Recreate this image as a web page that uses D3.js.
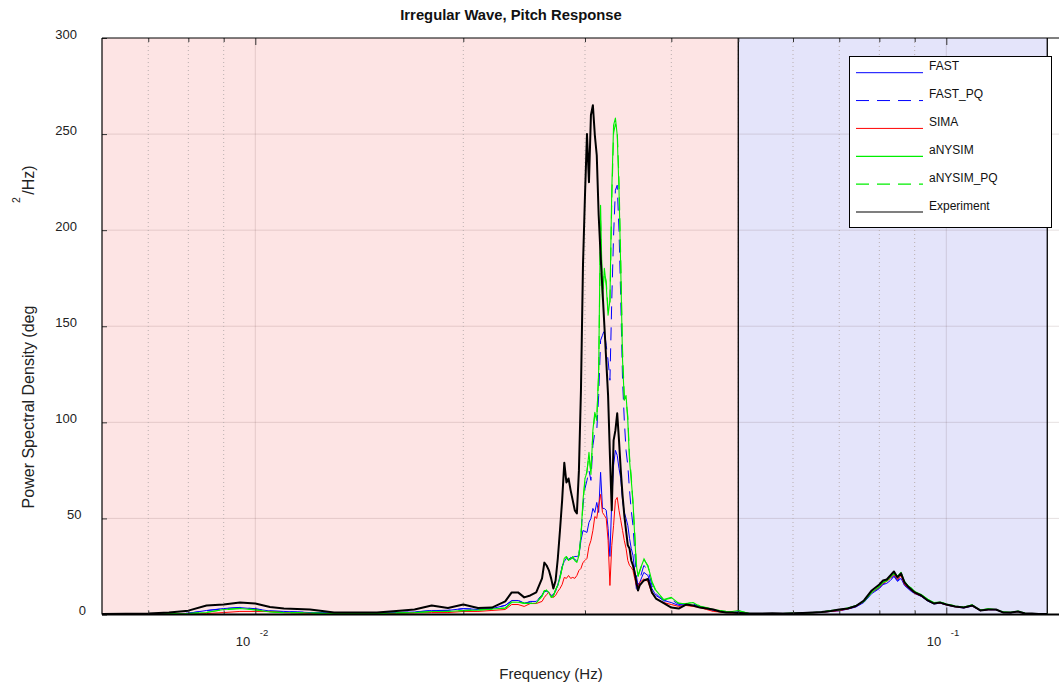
<!DOCTYPE html>
<html>
<head>
<meta charset="utf-8">
<script src="https://cdn.jsdelivr.net/npm/d3@7"></script>
<style>
  html, body { margin: 0; padding: 0; background: #ffffff; }
  svg { display: block; font-family: "Liberation Sans", Arial, Helvetica, sans-serif; }
</style>
</head>
<body>
<svg id="chart" width="1059" height="686"></svg>
<script>
// Frequency grid (Hz) shared by all spectra
const freq = [
  0.006, 0.0065, 0.007, 0.0075, 0.008, 0.0085, 0.009, 0.0095, 0.010, 0.0105,
  0.011, 0.0115, 0.012, 0.0125, 0.013, 0.0135, 0.014, 0.0145, 0.015,
  0.016, 0.017, 0.018, 0.019, 0.020, 0.021, 0.022, 0.023,
  0.0235, 0.024, 0.0245, 0.025, 0.0255,
  0.0260, 0.0262, 0.0264, 0.0266, 0.0268, 0.0270, 0.0272, 0.0274, 0.0276, 0.0278,
  0.0280, 0.0282, 0.0284, 0.0286, 0.0288, 0.0290, 0.0292, 0.0294, 0.0296, 0.0298,
  0.0300, 0.0302, 0.0304, 0.0306, 0.0308, 0.0310, 0.0312, 0.0314, 0.0316, 0.0318,
  0.0320, 0.0322, 0.0324, 0.0326, 0.0328, 0.0330, 0.0332, 0.0334, 0.0336, 0.0338,
  0.0340, 0.0342, 0.0344, 0.0346, 0.0348, 0.0350, 0.0352, 0.0354, 0.0356, 0.0358,
  0.0360,
  0.0365, 0.037, 0.0375, 0.038,
  0.039, 0.040, 0.041, 0.042, 0.043, 0.044, 0.045, 0.046, 0.047, 0.048, 0.049, 0.050,
  0.052, 0.054, 0.056, 0.058, 0.060, 0.062, 0.064, 0.066, 0.068, 0.070, 0.072, 0.074,
  0.076, 0.078, 0.080,
  0.081, 0.082, 0.083, 0.084, 0.085, 0.086, 0.087, 0.088, 0.089, 0.090,
  0.092, 0.094, 0.096, 0.098, 0.100,
  0.103, 0.106, 0.109, 0.112, 0.115, 0.118, 0.121, 0.124, 0.127, 0.130, 0.133, 0.136,
  0.140
];

// Pitch PSD, deg^2/Hz
const psdFAST = [
  0.2, 0.2, 0.3, 0.4, 0.6, 2.1, 3.1, 3.6, 2.9, 1.8, 1.6, 1.3, 1.0, 1.0, 0.8, 0.8, 0.8, 0.8, 0.8,
  1.0, 1.3, 2.1, 2.1, 3.1, 2.6, 3.1, 4.7,
  7.3, 7.3, 5.7, 6.8, 6.8,
  9.9, 12.0, 12.0, 11.5, 9.9, 10.4, 12.0, 15.6, 19.8, 25.0,
  27.6, 29.2, 28.1, 29.2, 29.7, 30.2, 30.2, 30.7, 38.5, 43.7,
  43.2, 42.7, 47.9, 50.0, 55.2, 53.1, 58.3, 53.1, 74.0, 55.2,
  55.2, 54.2, 44.8, 30.2, 59.4, 77.6, 85.4, 82.8, 76.0, 70.8,
  59.4, 53.1, 50.0, 46.4, 39.6, 34.4, 30.7, 22.9, 13.5, 12.5,
  16.7,
  21.9, 20.3, 13.5, 9.9,
  7.3, 6.2, 4.7, 5.2, 4.7, 4.2, 3.1, 2.1, 1.6, 1.0, 1.0, 1.0,
  0.4, 0.4, 0.5, 0.4, 0.5, 0.7, 0.9, 1.1, 1.6, 1.9, 2.8, 3.9, 6.3, 10.9, 13.5,
  15.6, 16.2, 17.7, 19.8, 17.2, 18.8, 15.1, 13.5, 12.0, 10.9,
  9.4, 7.0, 5.5, 5.9, 5.0,
  4.0, 3.4, 4.4, 2.0, 2.5, 2.4, 1.0, 0.9, 1.5, 0.5, 0.4, 0.3,
  0.3
];

const psdFAST_PQ = [
  0.2, 0.2, 0.3, 0.4, 0.7, 2.0, 3.0, 3.7, 3.0, 1.9, 1.5, 1.3, 1.1, 0.9, 0.8, 0.8, 0.8, 0.9, 0.8,
  1.1, 1.3, 2.0, 2.2, 3.0, 2.7, 3.0, 4.8,
  7.0, 7.5, 5.9, 6.5, 7.0,
  10.2, 12.3, 12.5, 11.8, 9.6, 10.0, 12.8, 15.1, 19.3, 24.5,
  28.6, 30.0, 28.6, 29.7, 29.2, 28.6, 28.1, 31.2, 41.1, 56.8,
  65.6, 69.8, 75.0, 69.8, 88.0, 94.8, 95.8, 114.0, 142.7, 145.3,
  148.0, 140.0, 132.3, 121.9, 163.5, 197.4, 220.8, 223.4, 200.0, 163.5,
  121.9, 101.0, 85.4, 77.6, 64.6, 54.2, 46.4, 33.3, 20.3, 15.1,
  18.3,
  25.5, 23.4, 15.1, 10.9,
  7.0, 7.8, 5.2, 5.5, 5.5, 4.2, 3.4, 2.3, 1.8, 1.2, 1.2, 1.4,
  0.4, 0.5, 0.5, 0.4, 0.6, 0.7, 0.9, 1.2, 1.7, 2.1, 3.0, 4.1, 6.5, 11.2, 14.0,
  16.0, 16.7, 18.2, 20.3, 17.7, 19.3, 15.4, 13.8, 12.3, 11.2,
  9.6, 7.2, 5.6, 6.0, 5.1,
  4.1, 3.5, 4.5, 2.1, 2.6, 2.5, 1.1, 0.9, 1.6, 0.5, 0.4, 0.3,
  0.3
];

const psdSIMA = [
  0.1, 0.1, 0.1, 0.2, 0.3, 0.5, 1.0, 1.6, 1.6, 1.6, 1.0, 0.8, 0.5, 0.5, 0.5, 0.5, 0.5, 0.5, 0.5,
  0.5, 0.8, 1.0, 1.0, 1.6, 1.6, 2.1, 2.6,
  5.2, 5.2, 4.2, 5.7, 5.7,
  6.8, 8.9, 10.4, 11.5, 9.4, 8.9, 9.9, 12.0, 13.5, 15.6,
  19.3, 18.8, 20.3, 18.8, 19.3, 18.8, 20.3, 22.9, 24.0, 27.1,
  28.1, 29.2, 35.4, 38.5, 43.7, 51.0, 50.0, 56.8, 62.5, 53.1,
  51.6, 50.0, 38.5, 15.1, 35.9, 46.4, 59.4, 60.9, 54.2, 49.0,
  43.7, 38.5, 34.4, 28.1, 25.5, 24.5, 22.9, 18.8, 15.1, 14.1,
  16.7,
  18.5, 17.2, 10.9, 8.3,
  6.2, 5.2, 4.2, 4.7, 4.2, 3.6, 2.6, 1.6, 1.3, 1.0, 0.8, 0.8,
  0.4, 0.4, 0.5, 0.4, 0.5, 0.7, 0.9, 1.1, 1.6, 2.0, 2.9, 4.2, 6.8, 11.5, 14.1,
  16.2, 17.2, 18.8, 20.8, 18.2, 20.3, 15.6, 14.1, 12.5, 11.0,
  9.6, 7.2, 5.6, 6.0, 5.0,
  4.0, 3.5, 4.5, 2.0, 2.5, 2.5, 1.0, 0.9, 1.5, 0.5, 0.4, 0.3,
  0.3
];

const psdANYSIM = [
  0.2, 0.2, 0.2, 0.3, 0.5, 1.0, 2.6, 3.1, 2.4, 1.3, 1.0, 0.9, 0.8, 0.6, 0.5, 0.5, 0.5, 0.5, 0.5,
  0.8, 1.0, 1.6, 1.6, 2.1, 2.3, 2.9, 3.3,
  6.5, 6.4, 5.9, 5.7, 6.0,
  9.4, 12.5, 12.5, 11.5, 8.9, 9.4, 13.0, 15.1, 18.8, 24.0,
  29.2, 30.2, 28.1, 29.2, 29.7, 28.1, 27.1, 30.7, 41.1, 59.4,
  70.8, 74.0, 84.4, 72.9, 95.8, 105.2, 101.0, 127.0, 213.0, 163.5,
  180.2, 171.3, 155.7, 163.5, 220.8, 254.7, 258.3, 249.5, 220.8, 179.0,
  132.3, 111.5, 114.0, 101.0, 80.2, 69.8, 59.4, 41.1, 25.5, 20.3,
  22.9,
  28.6, 25.5, 17.2, 12.5,
  7.8, 8.9, 5.7, 5.7, 6.2, 4.2, 3.6, 2.6, 2.1, 1.6, 1.6, 2.1,
  0.4, 0.5, 0.5, 0.5, 0.6, 0.8, 1.0, 1.3, 2.0, 2.4, 3.3, 4.7, 6.8, 11.5, 14.6,
  16.7, 17.7, 19.3, 21.4, 19.8, 21.9, 17.2, 15.1, 13.5, 12.0,
  10.4, 7.8, 6.2, 6.5, 5.5,
  4.4, 3.9, 4.9, 2.4, 2.9, 2.6, 1.3, 1.1, 1.8, 0.6, 0.5, 0.4,
  0.3
];

const psdANYSIM_PQ = [
  0.2, 0.2, 0.2, 0.3, 0.5, 1.1, 2.5, 3.2, 2.5, 1.4, 1.0, 0.9, 0.8, 0.6, 0.5, 0.5, 0.5, 0.5, 0.5,
  0.8, 1.0, 1.5, 1.7, 2.0, 2.3, 2.8, 3.4,
  6.3, 6.6, 5.8, 5.8, 6.2,
  9.8, 12.0, 12.8, 11.2, 9.2, 9.9, 12.6, 15.6, 19.3, 24.5,
  28.6, 29.7, 28.6, 28.6, 30.2, 28.6, 27.6, 31.2, 40.1, 57.8,
  69.8, 75.0, 82.8, 74.0, 94.3, 104.2, 102.0, 124.9, 205.0, 166.0,
  178.0, 173.4, 158.3, 160.9, 215.6, 250.5, 255.2, 252.0, 226.0, 184.2,
  137.5, 113.6, 111.5, 103.1, 82.3, 71.9, 57.3, 43.2, 26.6, 19.8,
  22.4,
  29.2, 25.0, 16.7, 12.0,
  7.5, 8.6, 5.9, 5.5, 6.4, 4.4, 3.4, 2.7, 2.0, 1.7, 1.5, 2.0,
  0.4, 0.5, 0.5, 0.5, 0.6, 0.8, 1.0, 1.3, 1.9, 2.4, 3.4, 4.6, 7.0, 11.8, 14.8,
  16.9, 17.5, 19.6, 21.0, 20.0, 21.6, 17.5, 14.8, 13.8, 11.8,
  10.2, 8.0, 6.0, 6.7, 5.3,
  4.5, 3.8, 5.0, 2.3, 3.0, 2.5, 1.4, 1.0, 1.9, 0.6, 0.5, 0.4,
  0.3
];

const psdExperiment = [
  0.3, 0.4, 0.5, 1.0, 2.0, 4.7, 5.2, 6.2, 5.7, 3.9, 3.1, 2.9, 2.6, 1.8, 1.0, 1.0, 1.0, 1.0, 1.0,
  1.8, 2.6, 4.7, 3.4, 5.2, 3.4, 3.6, 6.8,
  11.5, 11.5, 8.9, 9.9, 11.5,
  18.8, 27.0, 25.5, 23.0, 18.8, 13.5, 17.7, 29.0, 43.7, 59.4,
  79.0, 68.7, 70.8, 64.6, 59.4, 54.2, 52.6, 75.0, 116.7, 181.8,
  218.2, 250.0, 225.0, 259.9, 265.0, 249.5, 239.0, 207.8, 187.0, 168.7,
  150.5, 132.3, 114.0, 82.8, 54.2, 90.6, 95.8, 104.7, 90.6, 75.0,
  62.0, 51.6, 43.7, 36.0, 34.4, 28.1, 25.5, 21.9, 16.7, 12.5,
  15.1,
  17.7, 18.5, 11.5, 8.3,
  5.9, 3.6, 3.1, 5.2, 4.7, 3.6, 3.1, 2.6, 1.6, 1.0, 1.0, 0.8,
  0.5, 0.5, 0.6, 0.5, 0.6, 0.8, 1.0, 1.3, 1.8, 2.6, 3.1, 4.4, 7.3, 12.5, 15.6,
  17.7, 18.2, 20.3, 22.4, 19.3, 21.4, 16.7, 14.6, 13.0, 11.5,
  9.9, 7.3, 5.7, 6.2, 5.2,
  4.2, 3.6, 4.7, 2.1, 2.6, 2.6, 1.0, 1.0, 1.6, 0.5, 0.5, 0.3,
  0.3
];

const seriesNames = ["FAST", "FAST_PQ", "SIMA", "aNYSIM", "aNYSIM_PQ", "Experiment"];
const seriesValues = [psdFAST, psdFAST_PQ, psdSIMA, psdANYSIM, psdANYSIM_PQ, psdExperiment];

// Axis ticks
const yTicks = [0, 50, 100, 150, 200, 250, 300];
const xMajorTicks = [0.01, 0.1];
const xMajorExponents = ["-2", "-1"];
const xMinorTicks = [0.007, 0.008, 0.009, 0.02, 0.03, 0.04, 0.05, 0.06, 0.07, 0.08, 0.09];

// Shaded frequency bands (Hz)
const bandEdges = [0.006, 0.05, 0.14];

// ---------------------------------------------------------------- styles
const seriesStyle = {
  "FAST":       { color: "#0000ff", width: 1,   dash: null,   legendWidth: 1 },
  "FAST_PQ":    { color: "#0000ff", width: 1,   dash: "13 8", legendWidth: 1 },
  "SIMA":       { color: "#ff0000", width: 1,   dash: null,   legendWidth: 1 },
  "aNYSIM":     { color: "#00ee00", width: 1.1, dash: null,   legendWidth: 1.2 },
  "aNYSIM_PQ":  { color: "#00ee00", width: 1.1, dash: "13 8", legendWidth: 1.2 },
  "Experiment": { color: "#000000", width: 2,   dash: null,   legendWidth: 1.2 }
};
const bandFills = ["#fde4e4", "#e4e4fa"];

// ---------------------------------------------------------------- layout
const svg = d3.select("#chart");
const plotLeft = 102, plotTop = 38, plotBottom = 614.5;
const pxPerDecade = 691;
const xDomain = [0.006, 0.16];
const x = d3.scaleLog()
  .domain(xDomain)
  .range([plotLeft, plotLeft + pxPerDecade * Math.log10(xDomain[1] / xDomain[0])]);
const plotRight = x.range()[1];
const y = d3.scaleLinear().domain([0, 300]).range([plotBottom, plotTop]);

svg.append("rect").attr("width", 1059).attr("height", 686).attr("fill", "#ffffff");

svg.append("defs").append("clipPath").attr("id", "plotClip")
  .append("rect")
  .attr("x", plotLeft).attr("y", plotTop)
  .attr("width", plotRight - plotLeft).attr("height", plotBottom - plotTop);

// Bands
const bands = d3.pairs(bandEdges);
svg.append("g").selectAll("rect").data(bands).join("rect")
  .attr("x", d => x(d[0]))
  .attr("y", y(300))
  .attr("width", d => x(d[1]) - x(d[0]))
  .attr("height", y(0) - y(300))
  .attr("fill", (d, i) => bandFills[i]);

// Grid
const grid = svg.append("g");
grid.selectAll("line.gy").data(yTicks.filter(v => v > 0 && v < 300)).join("line")
  .attr("class", "gy")
  .attr("x1", plotLeft).attr("x2", plotRight)
  .attr("y1", d => y(d)).attr("y2", d => y(d))
  .attr("stroke", "rgba(60,20,20,0.13)").attr("stroke-width", 1);
grid.selectAll("line.gx").data(xMajorTicks).join("line")
  .attr("class", "gx")
  .attr("x1", d => x(d)).attr("x2", d => x(d))
  .attr("y1", plotTop).attr("y2", plotBottom)
  .attr("stroke", "rgba(60,20,20,0.13)").attr("stroke-width", 1);
grid.selectAll("line.gm").data(xMinorTicks).join("line")
  .attr("class", "gm")
  .attr("x1", d => x(d)).attr("x2", d => x(d))
  .attr("y1", plotTop).attr("y2", plotBottom)
  .attr("stroke", "#b9aeae").attr("stroke-width", 1)
  .attr("stroke-dasharray", "1 3");

// Band edges
svg.append("g").selectAll("line").data(bandEdges.slice(1)).join("line")
  .attr("x1", d => x(d)).attr("x2", d => x(d))
  .attr("y1", plotTop).attr("y2", plotBottom)
  .attr("stroke", "#000").attr("stroke-width", 1.3);

// Spectra
const line = d3.line()
  .x(d => x(d[0]))
  .y(d => y(d[1]));
const curves = svg.append("g").attr("clip-path", "url(#plotClip)");
seriesNames.forEach((name, i) => {
  const st = seriesStyle[name];
  curves.append("path")
    .datum(d3.zip(freq, seriesValues[i]))
    .attr("fill", "none")
    .attr("stroke", st.color)
    .attr("stroke-width", st.width)
    .attr("stroke-linejoin", "round")
    .attr("stroke-dasharray", st.dash)
    .attr("d", line);
});

// Axes
const axisColor = "#000";
const bottomMinor = d3.axisBottom(x).tickValues(xMinorTicks).tickSize(-4).tickFormat("");
const bottomMajor = d3.axisBottom(x).tickValues(xMajorTicks).tickSize(-7).tickFormat("");
const topMinor = d3.axisTop(x).tickValues(xMinorTicks).tickSize(-4).tickFormat("");
const topMajor = d3.axisTop(x).tickValues(xMajorTicks).tickSize(-7).tickFormat("");
[[bottomMinor, plotBottom], [bottomMajor, plotBottom], [topMinor, plotTop], [topMajor, plotTop]]
  .forEach(([ax, ty]) => {
    svg.append("g").attr("transform", `translate(0,${ty})`).call(ax)
      .call(g => g.select(".domain").remove())
      .call(g => g.selectAll("line").attr("stroke", "#333"));
  });

const leftAxis = d3.axisLeft(y).tickValues(yTicks).tickSize(-5).tickPadding(25);
svg.append("g").attr("class", "yaxis").attr("transform", `translate(${plotLeft},0)`).call(leftAxis)
  .call(g => g.select(".domain").remove())
  .call(g => g.selectAll("line").attr("stroke", "#333"))
  .call(g => g.selectAll("text")
    .attr("x", d => -(25 - (3 - String(d).length) * 4.5))
    .attr("dy", "0em")
    .attr("fill", "#222")
    .style("font-size", "13px")
    .style("font-family", '"Liberation Sans", Arial, sans-serif'));

// Axes box
svg.append("line").attr("x1", plotLeft).attr("x2", 1059).attr("y1", plotTop).attr("y2", plotTop)
  .attr("stroke", axisColor).attr("stroke-width", 1);
svg.append("line").attr("x1", plotLeft).attr("x2", 1059).attr("y1", plotBottom).attr("y2", plotBottom)
  .attr("stroke", axisColor).attr("stroke-width", 1.8);
svg.append("line").attr("x1", plotLeft).attr("x2", plotLeft).attr("y1", plotTop).attr("y2", plotBottom)
  .attr("stroke", axisColor).attr("stroke-width", 1.2);

// Decade labels
const xlab = svg.append("g").attr("fill", "#222");
xMajorTicks.forEach((t, i) => {
  xlab.append("text")
    .attr("x", x(t) - 5).attr("y", 646)
    .attr("text-anchor", "end")
    .style("font-size", "13px")
    .text("10");
  xlab.append("text")
    .attr("x", x(t) + 4.5).attr("y", 636)
    .attr("text-anchor", "start")
    .style("font-size", "9.5px")
    .text(xMajorExponents[i]);
});

// Titles
svg.append("text")
  .attr("x", 511).attr("y", 19.5)
  .attr("text-anchor", "middle")
  .style("font-size", "14.8px").style("font-weight", "bold")
  .attr("fill", "#111")
  .text("Irregular Wave, Pitch Response");

svg.append("text")
  .attr("x", 551).attr("y", 679)
  .attr("text-anchor", "middle")
  .style("font-size", "15px")
  .attr("fill", "#222")
  .text("Frequency (Hz)");

svg.append("text")
  .attr("transform", "translate(34,407) rotate(-90)")
  .attr("text-anchor", "middle")
  .style("font-size", "16px")
  .attr("fill", "#222")
  .text("Power Spectral Density (deg");
svg.append("text")
  .attr("transform", "translate(20,200) rotate(-90)")
  .attr("text-anchor", "middle")
  .style("font-size", "10.5px")
  .attr("fill", "#222")
  .text("2");
svg.append("text")
  .attr("transform", "translate(34,180) rotate(-90)")
  .attr("text-anchor", "middle")
  .style("font-size", "16px")
  .attr("fill", "#222")
  .text("/Hz)");

// Legend
const legend = svg.append("g");
legend.append("rect")
  .attr("x", 849.5).attr("y", 56.5).attr("width", 202).attr("height", 171)
  .attr("fill", "#fff").attr("stroke", "#000").attr("stroke-width", 1);
const rowY = d3.scaleLinear().domain([0, seriesNames.length - 1]).range([72.7, 212]);
const rows = legend.selectAll("g.row").data(seriesNames).join("g").attr("class", "row")
  .attr("transform", (d, i) => `translate(0,${rowY(i)})`);
rows.append("line")
  .attr("x1", 856).attr("x2", 923).attr("y1", 0).attr("y2", 0)
  .attr("stroke", d => seriesStyle[d].color)
  .attr("stroke-width", d => seriesStyle[d].legendWidth)
  .attr("stroke-dasharray", d => seriesStyle[d].dash);
rows.append("text")
  .attr("x", 929).attr("y", -2.5)
  .style("font-size", "12px")
  .attr("fill", "#111")
  .text(d => d);
</script>
</body>
</html>
